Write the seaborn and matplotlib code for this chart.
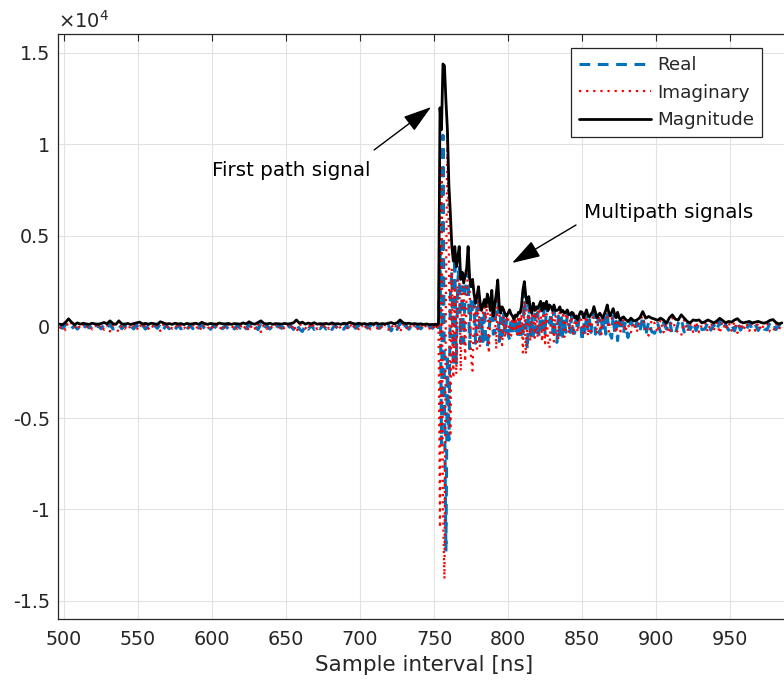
import numpy as np
import pandas as pd
import matplotlib
matplotlib.use("Agg")
import matplotlib.pyplot as plt
import seaborn as sns

# sample times [ns]: 2 ns steps in the quiet parts, 1 ns through the burst
t_pre = np.arange(497, 750, 2)
t_main = np.arange(750, 880)
t_post = np.arange(881, 987, 2)

# values, in units of 100
mag_pre = [1.5, 1.2, 2.5, 4.4, 2.6, 1.2, 2.2, 1.5, 2.0, 1.6,
           1.4, 2.0, 1.6, 1.5, 1.8, 2.4, 1.7, 3.3, 1.8, 1.4,
           3.3, 1.6, 1.5, 1.9, 1.3, 1.8, 2.2, 2.6, 1.6, 1.9,
           1.5, 2.0, 1.7, 1.4, 2.8, 2.2, 1.6, 1.8, 1.4, 2.0,
           1.6, 1.8, 1.3, 1.9, 1.5, 1.7, 2.0, 1.4, 2.5, 1.8,
           1.4, 1.9, 1.6, 1.5, 2.1, 1.7, 1.6, 1.9, 1.4, 1.8,
           1.7, 1.5, 2.2, 1.6, 2.8, 1.8, 1.5, 2.4, 3.3, 1.9,
           1.6, 2.0, 1.4, 1.8, 1.7, 1.5, 1.9, 1.6, 1.8, 2.2,
           3.8, 2.0, 2.6, 1.5, 2.1, 1.6, 2.3, 1.5, 1.8, 1.6,
           1.9, 1.5, 2.2, 1.6, 1.8, 1.4, 2.0, 1.7, 2.5, 1.9,
           1.5, 2.0, 1.6, 1.8, 1.4, 1.9, 1.6, 2.1, 1.5, 1.8,
           1.6, 2.0, 2.4, 1.7, 2.2, 3.8, 2.3, 1.8, 2.0, 1.6,
           1.8, 1.5, 1.7, 1.3, 1.6, 1.2, 1.4]
re_pre = [0.5, -0.8, 1.2, 2.0, -1.0, 0.6, -1.2, 0.8, -0.9, 1.0,
          -0.6, 0.9, -1.0, 0.7, -1.1, 1.3, -0.8, 1.5, -1.2, 0.6,
          1.4, -1.0, 0.8, -1.2, 0.5, -1.1, 1.0, -1.6, 0.9, -1.2,
          0.7, -1.3, 1.0, -0.8, 1.6, -1.5, 0.9, -1.0, 0.6, -1.4,
          0.8, -1.1, 0.6, -1.3, 0.9, -1.0, 1.2, -0.7, 1.4, -1.2,
          0.6, -1.3, 0.9, -0.8, 1.1, -1.0, 0.7, -1.3, 0.5, -1.1,
          0.9, -0.7, 1.3, -1.0, 1.5, -1.2, 0.6, -1.5, 1.8, -1.3,
          0.8, -1.2, 0.6, -1.1, 0.9, -0.8, 1.2, -1.0, 0.7, -1.4,
          2.0, -1.2, -2.5, 0.8, -1.3, 0.9, -1.4, 0.6, -1.0, 0.9,
          -1.2, 0.7, -1.4, 1.0, -0.9, 0.6, -1.3, 1.0, -1.5, 1.2,
          -0.8, 1.1, -1.0, 0.9, -0.7, 1.2, -1.0, 1.3, -0.9, 1.0,
          -0.9, 1.1, -2.2, 1.0, -1.4, 2.2, -1.5, 1.0, -1.3, 0.9,
          -1.0, 0.8, -1.1, 0.7, -0.9, 0.6, -0.8]
im_pre = [-0.9, 0.6, -1.8, 3.2, 2.0, -0.7, 1.5, -1.0, 1.4, -0.8,
          1.1, -1.4, 1.0, -1.1, 1.2, -1.6, 1.1, -2.5, 1.0, -1.0,
          -2.6, 1.0, -1.0, 1.2, -0.9, 1.1, -1.8, 1.6, -1.0, 1.3,
          -1.1, 1.2, -1.1, 1.0, -2.2, 1.2, -1.0, 1.2, -1.0, 1.0,
          -1.1, 1.2, -0.9, 1.1, -1.0, 1.2, -1.4, 1.0, -1.9, 1.1,
          -1.0, 1.2, -1.1, 1.0, -1.6, 1.1, -1.2, 1.2, -1.0, 1.2,
          -1.1, 1.0, -1.6, 1.0, -2.3, 1.1, -1.0, 1.8, -2.8, 1.2,
          -1.1, 1.2, -1.0, 1.2, -1.2, 1.0, -1.3, 1.1, -1.2, 1.4,
          -3.0, 1.4, 0.8, -1.0, 1.5, -1.1, 1.6, -1.2, 1.3, -1.1,
          1.4, -1.1, 1.6, -1.0, 1.4, -1.0, 1.6, -1.2, 1.8, -1.2,
          1.1, -1.3, 1.2, -1.4, 1.1, -1.4, 1.2, -1.6, 1.1, -1.3,
          1.2, -1.6, 1.2, -1.3, 1.7, -3.0, 1.6, -1.4, 1.5, -1.2,
          1.4, -1.2, 1.3, -1.1, 1.3, -1.0, 1.1]

mag_main = [1.2, 1.5, 1.0, 2.0, 120, 108, 144, 143, 124, 108,
            78, 62, 44, 36, 44, 33, 38, 44, 26, 30,
            24, 28, 32, 44, 27, 22, 26, 18, 13, 17,
            22, 14, 9, 12, 15, 11, 18, 15, 9, 20,
            6, 12, 18, 25.7, 12, 7.5, 11, 9.3, 7, 5.7,
            7.5, 9.3, 7, 6, 4, 6.5, 5.7, 8, 7.5, 11,
            20, 24.8, 16.6, 13, 16.6, 10, 7.5, 13, 9, 11,
            10, 12, 14, 9, 13, 10, 14, 9, 12, 11,
            9, 12, 9, 9, 9.5, 11, 8, 9, 7.5, 8,
            9.3, 7, 6.5, 8, 7.5, 5, 6, 4, 6.5, 8.4,
            8, 5, 7, 9.3, 6, 5.5, 7, 8, 11.1, 8,
            5, 6.5, 7.5, 6, 5, 7, 9, 12, 8, 6,
            8, 10, 7, 5, 8, 5, 3.8, 5, 5.5, 4.5]
re_main = [0.6, -0.8, 0.5, -1.2, 45, -64, 105, -37, -123, -15,
           -62, 18, 30, -22, 38, -20, 25, 34, -9, 22,
           -9, 20, 26, 30, -12, 14, 8, 14, -9, 12,
           15, -8, 6, -8, 10, -10, -11, -3, 6, 14,
           -4, -3.5, 13, 18, -8, 5, -5, 7, -4, 4,
           -4, -7, 5, -3, 3, -4, 4, -5, 5, -6.5,
           -6, 20, 5, -12.5, 12, -6, 5, -5, 7, -3,
           8, -5.5, 11, -4, 10, -4, 12, 4, 2, 8,
           -4, 9, -6, -8.5, 6, -4.5, 5, -6, 5, -3,
           7, 4, -3, 6, -3.5, -3.5, 4, -2, 5, 3,
           -8, 3, -4, 7, -3, 4, -3, 6, 8, -4,
           -2, 5, -4, 4, -3, 5, -4, 9, -3, -4,
           -6.2, 7, -3, 3, -7.5, 3, -2, 3, -3.5, 2]
im_main = [-0.8, 1.0, -0.7, 1.5, -110, 87, -98, -138, 15, 107,
           45, -60, 32, -28, 22, -26, 28, 28, -24, 20,
           22, -19, 18, 32, 24, -17, -24, 11, 9, -12,
           16, -11, -6, 8, 11, 4, 14, -14.5, 6, 14,
           4, 11, -12, 18, 9, -5.5, -10, 6, -6, 4,
           6, -6, -5, 5, -3, 5, -4, 6, -5.5, 9,
           -14, 14, -15, 2, 11, -8, 5.5, 12, -6, 10,
           -6, 10.5, 9, -8, 8, -9, 7, -8, -11.7, 7,
           8, -8, 6.5, 1, -7, 10, 6, 6.5, -5.5, 7.5,
           6, -3.5, 5.5, 5, -4.5, 3, 4, -3, 4, 7.5,
           1, -3.5, 5, 6, -5, 3.5, -2.5, 5, 7.5, 7,
           -4, 4, 6, -4, 3.5, 5, 8, 8, -2.6, 4,
           4.5, 7, 6, -3.5, 2, 4, -2.5, 3.5, 4, -2.6]

mag_post = [2.9, 4.8, 3.2, 3.8, 5.0, 8.4, 4.8, 5.7, 4.8, 4.3,
            3.6, 4.8, 3.8, 2.0, 5.0, 6.6, 4.2, 3.8, 6.6, 4.8,
            3.0, 2.2, 3.8, 3.5, 3.8, 2.2, 2.8, 3.8, 3.0, 2.2,
            3.2, 4.7, 3.5, 2.2, 3.0, 2.6, 3.8, 4.5, 2.8, 2.2,
            2.6, 3.0, 2.2, 2.6, 3.0, 2.4, 2.0, 2.6, 3.6, 4.0,
            2.4, 1.6, 2.2]
re_post = [-5.8, 3.5, -2.0, 2.5, -3.0, 6.0, -4.8, 3.0, -2.5, -3.5,
           2.0, -2.8, 2.4, -1.2, 3.5, -4.2, -4.0, 2.2, 4.5, -2.8,
           1.6, -1.5, 2.4, -2.0, 2.2, -1.5, -1.2, 2.5, -1.8, 1.2,
           -2.0, 3.0, -1.6, 1.2, -1.8, 1.5, -2.2, 3.0, -1.8, 1.0,
           -1.5, 2.0, -1.2, 1.5, -2.0, 1.2, -1.2, -1.6, 2.4, 2.6,
           -1.5, 0.8, -1.5]
im_post = [1.5, -3.0, 2.4, -2.8, 3.8, 5.8, -1.5, -4.8, 4.0, 2.0,
           -3.0, 3.8, -3.0, 1.5, -3.6, 5.2, -1.5, -3.0, -4.8, 3.8,
           -2.5, 1.6, -2.8, 2.8, -3.0, 1.6, 2.5, -2.8, 2.4, -1.8,
           2.4, -3.5, 3.0, -1.8, 2.4, -2.1, 3.0, -3.3, 2.1, -2.0,
           2.1, -2.2, 1.8, -2.1, 2.2, -2.0, 1.6, 2.0, -2.6, -3.0,
           1.8, -1.4, 1.5]

t = np.concatenate([t_pre, t_main, t_post])
df = pd.DataFrame({
    "t": t,
    "real": np.array(re_pre + re_main + re_post) * 100,
    "imag": np.array(im_pre + im_main + im_post) * 100,
    "mag": np.array(mag_pre + mag_main + mag_post) * 100,
})

sns.set_theme(style="white")
plt.rcParams["font.family"] = ["DejaVu Sans"]
plt.rcParams["mathtext.fontset"] = "dejavusans"

ink = "#262626"
fig = plt.figure(figsize=(7.84, 6.94), dpi=100)
ax = fig.add_axes([0.074, 0.108, 0.935, 0.843])

sns.lineplot(data=df, x="t", y="real", ax=ax, color="#0072BD", lw=2.2,
             linestyle=(0, (3.5, 2.5)), label="Real", estimator=None, sort=False)
sns.lineplot(data=df, x="t", y="imag", ax=ax, color="#FF0000", lw=1.6,
             linestyle=(0, (1, 2.2)), label="Imaginary", estimator=None, sort=False)
sns.lineplot(data=df, x="t", y="mag", ax=ax, color="black", lw=2.0,
             label="Magnitude", estimator=None, sort=False)

ax.set_xlim(495.9, 991.2)
ax.set_ylim(-16000, 16040)
ax.set_xticks(np.arange(500, 951, 50))
ax.set_yticks(np.arange(-15000, 15001, 5000))
ax.yaxis.set_major_formatter(plt.FuncFormatter(lambda v, _: f"{v / 1e4:g}"))
ax.grid(True, color="#e2e2e2", lw=0.8)
ax.set_axisbelow(True)
ax.tick_params(direction="in", length=5, width=0.8, top=True, right=True,
               labelsize=13.8, colors=ink)
ax.tick_params(axis="x", pad=8)
ax.tick_params(axis="y", pad=6)
for s in ax.spines.values():
    s.set_color(ink)
    s.set_linewidth(0.9)

ax.set_xlabel("Sample interval [ns]", fontsize=15.5, color=ink, labelpad=4)
ax.set_ylabel("")
ax.text(0.0, 1.004, r"$\times10^{4}$", transform=ax.transAxes, ha="left",
        va="bottom", fontsize=14, color=ink)

arrow = dict(arrowstyle="-|>,head_length=0.8,head_width=0.25", color="black",
             lw=1.0, mutation_scale=22, shrinkA=0, shrinkB=0)
ax.annotate("", xy=(748, 12040), xytext=(709.5, 9690), arrowprops=arrow)
ax.text(653.4, 8590, "First path signal", ha="center", va="center",
        fontsize=14.3, color="black")
ax.annotate("", xy=(802.7, 3500), xytext=(845.9, 5580), arrowprops=arrow)
ax.text(908.4, 6240, "Multipath signals", ha="center", va="center",
        fontsize=14.3, color="black")

leg = ax.legend(loc="upper right", bbox_to_anchor=(0.9604, 0.976), fontsize=13.2,
                handlelength=3.9, handletextpad=0.33, labelspacing=0.52,
                borderpad=0.44, borderaxespad=0, frameon=True, fancybox=False,
                edgecolor=ink, framealpha=1)
leg.get_frame().set_linewidth(0.9)

fig.savefig("out.png", dpi=100)
